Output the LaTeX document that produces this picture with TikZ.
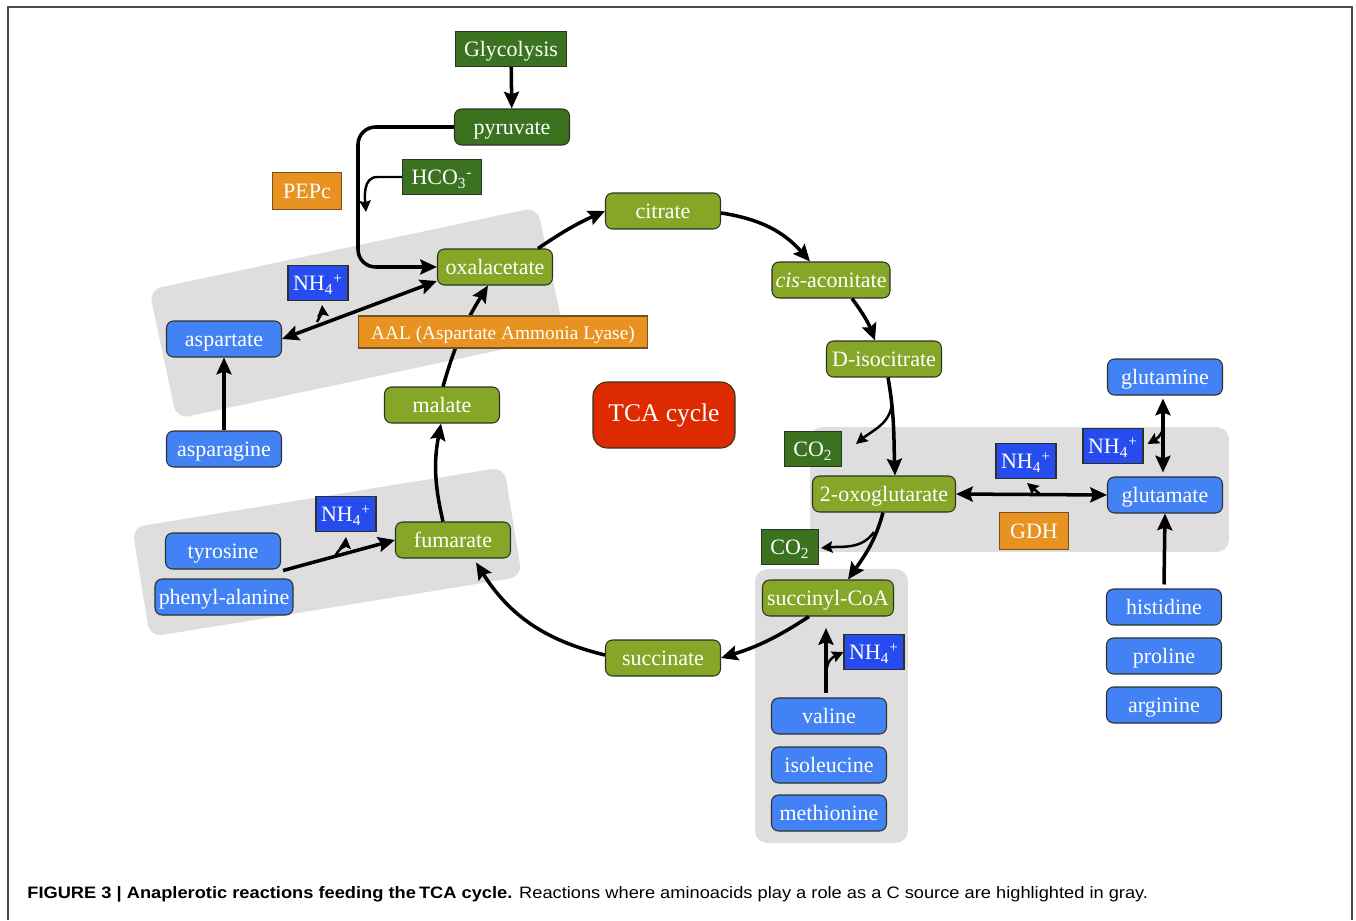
\documentclass[tikz,border=0pt]{standalone}
\usepackage{fontspec}
\setmainfont{Liberation Serif}
\newfontfamily\capfont{Liberation Sans}
\usetikzlibrary{arrows.meta,calc}

\definecolor{dkgreen}{RGB}{58,114,32}
\definecolor{cycgreen}{RGB}{134,166,40}
\definecolor{aminoblue}{RGB}{66,130,245}
\definecolor{nhblue}{RGB}{38,76,240}
\definecolor{enzorange}{RGB}{232,146,34}
\definecolor{enzline}{RGB}{120,80,30}
\definecolor{tcared}{RGB}{222,42,0}
\definecolor{hlgray}{RGB}{222,222,222}
\definecolor{boxline}{RGB}{45,50,40}

\begin{document}
\begin{tikzpicture}[x=0.02cm,y=0.02cm,
  box/.style={draw=boxline,line width=0.6pt,text=white,inner sep=2pt,
    font=\fontsize{12.5}{14}\selectfont,text height=11pt,text depth=2pt,minimum height=0.72cm},
  cyc/.style={box,fill=cycgreen,rounded corners=4pt,minimum width=2.3cm},
  amino/.style={box,fill=aminoblue,rounded corners=4pt,minimum width=2.3cm},
  src/.style={box,fill=dkgreen,inner xsep=5pt,minimum height=0.7cm},
  ammon/.style={box,fill=nhblue,minimum width=1.2cm,minimum height=0.7cm},
  enz/.style={box,fill=enzorange,draw=enzline,inner xsep=6pt,minimum height=0.74cm},
  hl/.style={fill=hlgray,rounded corners=7pt,inner sep=0pt},
  flux/.style={line width=2pt,-{Stealth[length=9.5pt,width=8.5pt,inset=1.5pt]}},
  both/.style={line width=2pt,{Stealth[length=9.5pt,width=8.5pt,inset=1.5pt]}-{Stealth[length=9.5pt,width=8.5pt,inset=1.5pt]}},
  side/.style={line width=1.4pt,-{Stealth[length=6.5pt,width=6.5pt,inset=1pt]}}]
\useasboundingbox (0,0) rectangle (1356,-920);

% frame
\draw[gray!60!black,line width=0.8pt] (8,-920) -- (8,-7) -- (1352,-7) -- (1352,-920);

% gray highlights
\node[hl,rotate=12,minimum width=7.94cm,minimum height=2.64cm] (hlAsp) at (357,-313) {};
\node[hl,rotate=9.2,minimum width=7.54cm,minimum height=2.22cm] (hlTyr) at (327,-552) {};
\node[hl,minimum width=8.38cm,minimum height=2.5cm] (hlGlu) at (1019.5,-489.5) {};
\node[hl,minimum width=3.06cm,minimum height=5.48cm] (hlVal) at (831.5,-706) {};

% TCA cycle
\node[src] (glyco) at (511,-49) {Glycolysis};
\node[src,rounded corners=4pt,minimum width=2.3cm,minimum height=0.72cm] (pyr) at (512,-127) {pyruvate};
\node[src] (hco) at (442,-177) {HCO\textsubscript{3}\textsuperscript{-}};
\node[enz] (pepc) at (307,-191) {PEPc};
\node[cyc] (cit) at (663,-211) {citrate};
\node[cyc] (cisaco) at (831,-280) {\textit{cis}-aconitate};
\node[cyc] (isocit) at (884,-359) {D-isocitrate};
\node[cyc] (oxa) at (495,-267) {oxalacetate};
\node[cyc,minimum width=2.86cm] (oxoglu) at (884,-494) {2-oxoglutarate};
\node[cyc,minimum width=2.62cm] (succoa) at (828,-598) {succinyl-CoA};
\node[cyc] (succ) at (663,-658) {succinate};
\node[cyc] (fum) at (453,-540) {fumarate};
\node[cyc] (mal) at (442,-405) {malate};
\node[box,fill=tcared,rounded corners=8pt,minimum width=2.84cm,minimum height=1.32cm,
  font=\fontsize{14.5}{16}\selectfont,text height=10pt,text depth=2.5pt] (tca) at (664,-415) {TCA cycle};
\node[src,minimum width=1cm] (co2a) at (813,-449) {CO\textsubscript{2}};
\node[src,minimum width=1cm] (co2b) at (790,-547) {CO\textsubscript{2}};
\node[enz] (gdh) at (1034,-531) {GDH};

% amino acids
\node[ammon] (nhasp) at (318,-283) {NH\textsubscript{4}\textsuperscript{+}};
\node[amino] (asp) at (224,-339) {aspartate};
\node[amino] (asn) at (224,-449) {asparagine};
\node[ammon] (nhfum) at (346,-514) {NH\textsubscript{4}\textsuperscript{+}};
\node[amino] (tyr) at (223,-551) {tyrosine};
\node[amino,minimum width=2.76cm] (phe) at (224,-597) {phenyl-alanine};
\node[ammon] (nhgdh) at (1026,-461) {NH\textsubscript{4}\textsuperscript{+}};
\node[amino] (gln) at (1165,-377) {glutamine};
\node[ammon] (nhgln) at (1113,-446) {NH\textsubscript{4}\textsuperscript{+}};
\node[amino] (glu) at (1165,-495) {glutamate};
\node[amino] (his) at (1164,-607) {histidine};
\node[amino] (pro) at (1164,-656) {proline};
\node[amino] (arg) at (1164,-705) {arginine};
\node[ammon] (nhval) at (874,-652) {NH\textsubscript{4}\textsuperscript{+}};
\node[amino] (val) at (829,-716) {valine};
\node[amino] (ile) at (829,-765) {isoleucine};
\node[amino] (met) at (829,-813) {methionine};

% free ends
\coordinate (pepBend) at (358,-200);
\coordinate (hcoTip) at (366,-212);
\coordinate (isoFork) at (892,-403);
\coordinate (co2aTip) at (856,-444);
\coordinate (gdhFork) at (1041,-495);
\coordinate (gdhTip) at (1027,-483);
\coordinate (oxoFork) at (874,-532);
\coordinate (co2bTip) at (821,-548);
\coordinate (valTip) at (826,-628);
\coordinate (valFork) at (827,-668);
\coordinate (aspFork) at (317,-322);
\coordinate (aspTip) at (322,-305);
\coordinate (fumFork) at (335,-557);
\coordinate (fumTip) at (346,-537);
\coordinate (glnFork) at (1163,-428);

% cycle
\draw[flux] (glyco) -- (pyr);
\draw[flux,rounded corners=10pt] (pyr.west) -| (pepBend) |- (oxa.west);
\draw[side] (hco.west) -- ++(-25,0) to[out=180,in=95] (hcoTip);
\draw[flux] ($(oxa.north east)+(-15,0)$) to[bend left=5] (cit.west);
\draw[flux] ($(cit.east)+(0,-2)$) to[bend left=20] ($(cisaco.north)+(-21,0)$);
\draw[flux] ($(cisaco.south)+(21,0)$) to[bend left=8] ($(isocit.north)+(-9,0)$);
\draw[flux] ($(isocit.south)+(4,0)$) to[out=-80,in=92] ($(oxoglu.north)+(11,0)$);
\draw[side] (isoFork) to[out=-95,in=40] (co2aTip);
\draw[flux] ($(oxoglu.south)+(-1,0)$) to[out=-105,in=55] ($(succoa.north)+(20,0)$);
\draw[side] (oxoFork) to[out=-125,in=5] (co2bTip);
\draw[flux] ($(succoa.south)+(-19,0)$) to[bend left=8] (succ.east);
\draw[flux] ($(succ.west)+(0,3)$) to[bend left=22] ($(fum.south east)+(-35,-4)$);
\draw[flux] ($(fum.north)+(-10,0)$) to[bend left=12] ($(mal.south)+(-1,0)$);
\draw[flux] ($(mal.north)+(1,0)$) to[bend left=8] ($(oxa.south)+(-7,0)$);
\node[enz,minimum width=5.78cm,minimum height=0.64cm,font=\fontsize{11}{12}\selectfont,
  text height=10.5pt,text depth=1.5pt] (aal) at (503,-332) {AAL (Aspartate Ammonia Lyase)};

% amino acid feeds
\draw[both] (asp.east) -- ($(oxa.west)+(0,-14)$);
\draw[side] (aspFork) to[out=65,in=-85] (aspTip);
\draw[flux] (asn) -- (asp);
\draw[flux] ($(tyr.south east)+(2,-1)$) -- (fum.west);
\draw[side] (fumFork) to[out=70,in=-95] (fumTip);
\draw[both] (oxoglu.east) -- (glu.west);
\draw[side] (gdhFork) to[out=140,in=-40] (gdhTip);
\draw[both] ($(gln.south)+(-2,-3)$) -- ($(glu.north)+(-2,4)$);
\draw[side] (glnFork) to[out=-100,in=30] ($(nhgln.east)+(4,2)$);
\draw[flux] ($(his.north)+(0,4)$) -- (glu.south);
\draw[flux] ($(val.north)+(-3,4)$) -- (valTip);
\draw[side] (valFork) to[out=85,in=-155] (nhval.west);

% caption
\node[anchor=base west,inner sep=0pt] (cap) at (27,-898) {\resizebox{22.42cm}{0.24cm}{\capfont\textbf{FIGURE 3 | Anaplerotic reactions feeding the\,TCA cycle.} Reactions where aminoacids play a role as a C source are highlighted in gray.}};
\end{tikzpicture}
\end{document}
